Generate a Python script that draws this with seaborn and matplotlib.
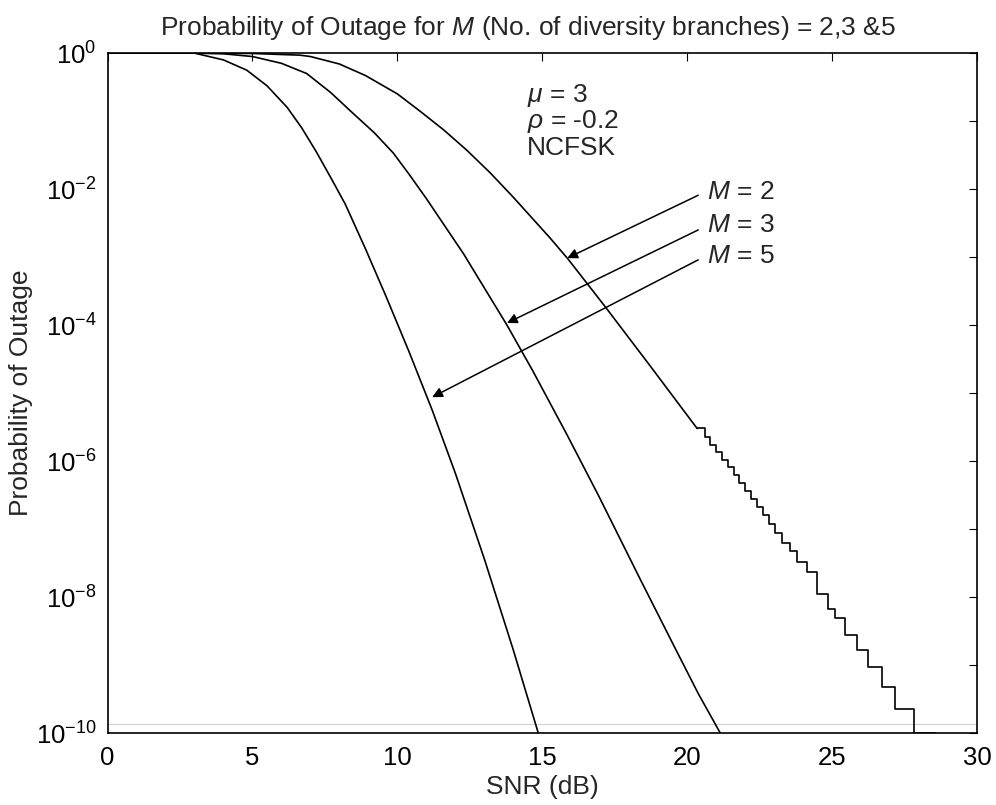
"""
Outage probability vs SNR for M = 2, 3, 5 diversity branches.
"""

import numpy as np
import pandas as pd
import matplotlib.pyplot as plt
import seaborn as sns
from matplotlib.ticker import FixedLocator, LogFormatterSciNotation, NullFormatter


sns.set_style("white")
plt.rcParams['font.family'] = ['Liberation Sans', 'DejaVu Sans']
plt.rcParams['mathtext.fontset'] = 'custom'
plt.rcParams['mathtext.rm'] = 'Liberation Sans'
plt.rcParams['mathtext.it'] = 'Liberation Sans:italic'

# values (SNR in dB, outage as log10)
snr_m5 = [0, 3.0, 4.0, 4.8, 5.5, 6.2, 6.7, 7.2, 7.7, 8.2, 8.9, 9.6, 10.4, 11.2, 12.0, 13.0,
          14.0, 14.86]
log_m5 = [0, 0, -0.10, -0.25, -0.48, -0.80, -1.10, -1.45, -1.83, -2.22, -2.88, -3.57, -4.39,
          -5.25, -6.18, -7.44, -8.78, -10.0]

snr_m3 = [0, 3.0, 4.0, 5.0, 6.0, 6.87, 7.7, 8.48, 9.2, 9.86, 10.4, 11.0, 11.6, 12.28, 13.78,
          14.68, 15.86, 16.93, 18.38, 19.52, 20.38, 21.14]
log_m3 = [0, 0, -0.01, -0.05, -0.15, -0.30, -0.58, -0.89, -1.17, -1.47, -1.78, -2.14, -2.52,
          -2.95, -4.0, -4.68, -5.62, -6.50, -7.74, -8.70, -9.42, -10.0]

snr_m2 = [0, 3.0, 5.0, 6.64, 7.0, 8.0, 8.9, 10.0, 10.8, 11.6, 12.4, 13.2, 14.0, 15.27, 15.89,
          17.17, 18.72, 20.34]
log_m2 = [0, 0, -0.005, -0.03, -0.05, -0.16, -0.33, -0.60, -0.86, -1.13, -1.43, -1.76, -2.12,
          -2.72, -3.03, -3.73, -4.60, -5.52]

# staircase tail of the M = 2 curve
snr_m2_tail = [20.34, 20.6, 20.8, 21.0, 21.2, 21.4, 21.6, 21.8, 22.0, 22.2, 22.4, 22.6, 22.82,
               23.04, 23.28, 23.55, 23.79, 24.14, 24.48, 24.86, 25.10, 25.45, 25.86, 26.24,
               26.72, 27.17, 27.83, 28.6]
log_m2_tail = [-5.52, -5.65, -5.76, -5.87, -5.98, -6.09, -6.20, -6.32, -6.44, -6.56, -6.68, -6.80,
               -6.93, -7.06, -7.21, -7.33, -7.48, -7.63, -7.95, -8.17, -8.31, -8.56, -8.78, -9.03,
               -9.33, -9.65, -10.0, -10.0]

branches = ['2', '3', '5']
label_y = [-2.04, -2.53, -2.99]
arrow_start_y = [-2.09, -2.60, -3.04]
arrow_tip = [(15.86, -3.015), (13.78, -3.97), (11.20, -5.06)]

df = pd.concat([
    pd.DataFrame({'snr': snr_m2, 'pout': np.power(10.0, log_m2), 'M': '2'}),
    pd.DataFrame({'snr': snr_m3, 'pout': np.power(10.0, log_m3), 'M': '3'}),
    pd.DataFrame({'snr': snr_m5, 'pout': np.power(10.0, log_m5), 'M': '5'}),
])
tail = pd.DataFrame({'snr': snr_m2_tail, 'pout': np.power(10.0, log_m2_tail)})

fig, ax = plt.subplots(figsize=(9.96, 8.05), dpi=100)
fig.subplots_adjust(left=0.108, right=0.981, top=0.934, bottom=0.0894)
ax.set_yscale('log')

sns.lineplot(data=df, x='snr', y='pout', hue='M', palette={b: 'black' for b in branches},
             estimator=None, sort=False, legend=False, lw=1.2, ax=ax)
sns.lineplot(data=tail, x='snr', y='pout', color='black', estimator=None, sort=False,
             lw=1.2, drawstyle='steps-post', ax=ax)

ax.axhline(1.35e-10, color='#d0d0d0', lw=0.8, zorder=0)

ax.set_xlim(0, 30)
ax.set_ylim(1e-10, 1)
ax.set_xticks(range(0, 31, 5))
ax.yaxis.set_major_locator(FixedLocator([10.0 ** e for e in range(-10, 1, 2)]))
ax.yaxis.set_minor_locator(FixedLocator([10.0 ** e for e in range(-9, 0, 2)]))
ax.yaxis.set_major_formatter(LogFormatterSciNotation())
ax.yaxis.set_minor_formatter(NullFormatter())
ax.tick_params(which='both', direction='in', top=True, right=True, length=6, width=0.8,
               labelsize=18.5, colors='black')
ax.tick_params(axis='x', pad=9)
ax.tick_params(axis='y', pad=8)

for spine in ax.spines.values():
    spine.set_color('black')
    spine.set_linewidth(1.2)

ax.set_title('Probability of Outage for $M$ (No. of diversity branches) = 2,3 &5',
             fontsize=19, x=0.483, pad=13)
ax.set_xlabel('SNR (dB)', fontsize=19, labelpad=4)
ax.set_ylabel('Probability of Outage', fontsize=19, labelpad=2)

ax.text(14.48, 10 ** -0.62, r'$\mu$ = 3', fontsize=19, va='center', ha='left')
ax.text(14.48, 10 ** -1.0, r'$\rho$ = -0.2', fontsize=19, va='center', ha='left')
ax.text(14.48, 10 ** -1.4, 'NCFSK', fontsize=19, va='center', ha='left')

for b, ly, sy, (tx, ty) in zip(branches, label_y, arrow_start_y, arrow_tip):
    ax.text(20.69, 10 ** ly, f'$M$ = {b}', fontsize=19, va='center', ha='left')
    ax.annotate('', xy=(tx, 10 ** ty), xytext=(20.38, 10 ** sy),
                arrowprops=dict(arrowstyle='-|>', color='black', lw=1.1,
                                mutation_scale=15, shrinkA=0, shrinkB=0))

plt.savefig('out.png', dpi=100)
plt.close()
